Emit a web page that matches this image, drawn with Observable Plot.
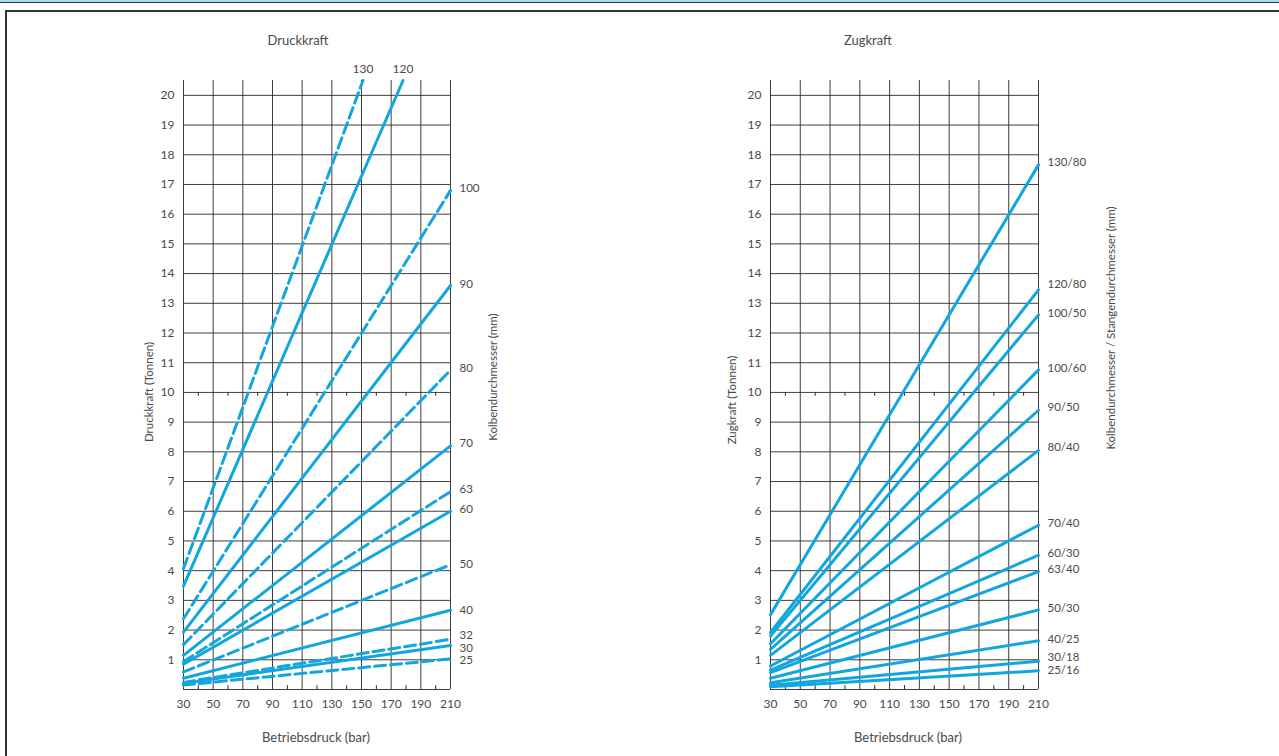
<!DOCTYPE html>
<html>
<head>
<meta charset="utf-8">
<script src="https://cdn.jsdelivr.net/npm/d3@7"></script>
<script src="https://cdn.jsdelivr.net/npm/@observablehq/plot@0.6"></script>
<style>
  html, body { margin: 0; padding: 0; background: #fff; }
  #root { position: relative; width: 1279px; height: 756px; overflow: hidden; background: #fff;
          font-family: Lato, "Open Sans", sans-serif; color: #4a4a4a; }
  .band { position: absolute; left: 0; top: 0; width: 1279px; height: 2px; background: #a7d6f2; border-bottom: 1px solid #2b3a44; }
  .frame { position: absolute; left: 5px; top: 10px; width: 1290px; height: 760px; border-left: 2px solid #333; border-top: 2px solid #333; }
  .chart { position: absolute; top: 0; }
  .t { position: absolute; white-space: nowrap; font-size: 13px; transform: translate(-50%, -50%); }
  .r { position: absolute; white-space: nowrap; font-size: 11.5px; transform: translate(-50%, -50%) rotate(-90deg); }
</style>
</head>
<body>
<div id="root">
  <div class="band"></div>
  <div class="frame"></div>
  <div id="left" class="chart" style="left:0px"></div>
  <div id="right" class="chart" style="left:640px"></div>
</div>
<script>
// ---------- shared axes ----------
const xTicks = [30, 50, 70, 90, 110, 130, 150, 170, 190, 210];
const xMinor = [40, 60, 80, 100, 120, 140, 160, 180, 200];
const yTicks = [1,2,3,4,5,6,7,8,9,10,11,12,13,14,15,16,17,18,19,20];
const yGrid = [0,1,2,3,4,5,6,7,8,9,10,11,12,13,14,15,16,17,18,19,20];

// ---------- Druckkraft (push force) ----------
const pushNames  = ["25","30","32","40","50","60","63","70","80","90","100","120","130"];
const pushDashed = [true,false,true,false,true,false,true,false,true,false,true,false,true];
const pushStart  = [0.15,0.21,0.24,0.38,0.59,0.85,0.94,1.15,1.51,1.93,2.38,3.48,4.07]; // at 30 bar
const pushEndP   = [210,210,210,210,210,210,210,210,210,210,210,178,151];
const pushEndF   = [1.03,1.48,1.69,2.67,4.2,6.0,6.66,8.2,10.75,13.6,16.8,20.5,20.5];
const pushLabelY = [0.98,1.4,1.83,2.65,4.2,6.06,6.73,8.28,10.8,13.64,16.87,null,null];

// ---------- Zugkraft (pull force) ----------
const pullNames  = ["25/16","30/18","40/25","50/30","63/40","60/30","70/40","80/40","90/50","100/60","100/50","120/80","130/80"];
const pullStart  = [0.09,0.14,0.23,0.38,0.57,0.65,0.79,1.15,1.35,1.54,1.80,1.92,2.52]; // at 30 bar
const pullEnd    = [0.63,0.95,1.64,2.68,3.97,4.52,5.53,8.05,9.4,10.76,12.61,13.45,17.66]; // at 210 bar
const pullLabelY = [0.64,1.1,1.68,2.73,4.04,4.6,5.59,8.15,9.49,10.81,12.66,13.64,17.74];

const BLUE = "#12a6e0";
const GRID = "#2a2a2a";
const TXT = "#4a4a4a";
const font = "Lato, 'Open Sans', sans-serif";

function gridMarks() {
  return [
    Plot.ruleY(yGrid, {stroke: GRID, strokeWidth: 1, strokeOpacity: 0.9}),
    Plot.ruleX(xTicks, {stroke: GRID, strokeWidth: 1, strokeOpacity: 0.9}),
    Plot.ruleX(xMinor, {y1: 0, y2: 0.13, stroke: GRID}),
    Plot.ruleX(xMinor, {y1: 10, y2: 9.87, stroke: GRID}),
    Plot.axisX(xTicks, {tickSize: 0, tickPadding: 10, label: null, fontSize: 12, fill: TXT}),
    Plot.axisY(yTicks, {tickSize: 0, tickPadding: 9, label: null, fontSize: 12, fill: TXT})
  ];
}

function baseOpts(width, ml, mr) {
  return {
    width, height: 756,
    marginLeft: ml, marginRight: mr, marginTop: 80, marginBottom: 67,
    x: {domain: [30, 210]},
    y: {domain: [0, 20.5]},
    style: {fontFamily: font, fontSize: "12px", color: TXT, background: "transparent", overflow: "visible"}
  };
}

// push data
const pushLines = pushNames.flatMap((n, i) => [
  {name: n, dashed: pushDashed[i], p: 30, f: pushStart[i]},
  {name: n, dashed: pushDashed[i], p: pushEndP[i], f: pushEndF[i]}
]);
const pushSideLabels = pushNames.map((n, i) => ({name: n, y: pushLabelY[i]})).filter(d => d.y != null);
const pushTopLabels = pushNames.map((n, i) => ({name: n, p: pushEndP[i], f: pushEndF[i]})).filter((d, i) => pushLabelY[i] == null);

const left = Plot.plot({
  ...baseOpts(640, 183, 190),
  marks: [
    ...gridMarks(),
    Plot.line(pushLines.filter(d => !d.dashed), {x: "p", y: "f", z: "name", stroke: BLUE, strokeWidth: 3}),
    Plot.line(pushLines.filter(d => d.dashed), {x: "p", y: "f", z: "name", stroke: BLUE, strokeWidth: 3, strokeDasharray: "11,5"}),
    Plot.text(pushSideLabels, {x: 210, y: "y", text: "name", dx: 9, textAnchor: "start", fontSize: 11.5, fill: TXT}),
    Plot.text(pushTopLabels, {x: "p", y: "f", text: "name", dy: -11, textAnchor: "middle", fontSize: 12, fill: TXT})
  ]
});
document.getElementById("left").appendChild(left);

// pull data
const pullLines = pullNames.flatMap((n, i) => [
  {name: n, p: 30, f: pullStart[i]},
  {name: n, p: 210, f: pullEnd[i]}
]);
const pullSideLabels = pullNames.map((n, i) => ({name: n, y: pullLabelY[i]}));

const right = Plot.plot({
  ...baseOpts(639, 130, 241),
  marks: [
    ...gridMarks(),
    Plot.line(pullLines, {x: "p", y: "f", z: "name", stroke: BLUE, strokeWidth: 3}),
    Plot.text(pullSideLabels, {x: 210, y: "y", text: "name", dx: 9, textAnchor: "start", fontSize: 11.5, fill: TXT})
  ]
});
document.getElementById("right").appendChild(right);

// ---------- texts ----------
const root = document.getElementById("root");
function addText(txt, cx, cy, cls) {
  const d = document.createElement("div");
  d.className = cls;
  d.style.left = cx + "px";
  d.style.top = cy + "px";
  d.textContent = txt;
  root.appendChild(d);
}
addText("Druckkraft", 298, 40, "t");
addText("Zugkraft", 868, 40, "t");
addText("Betriebsdruck (bar)", 316, 737, "t");
addText("Betriebsdruck (bar)", 908, 737, "t");
addText("Druckkraft (Tonnen)", 148, 392, "r");
addText("Kolbendurchmesser (mm)", 492, 377, "r");
addText("Zugkraft (Tonnen)", 731, 400, "r");
addText("Kolbendurchmesser / Stangendurchmesser (mm)", 1110, 328, "r");
</script>
</body>
</html>
